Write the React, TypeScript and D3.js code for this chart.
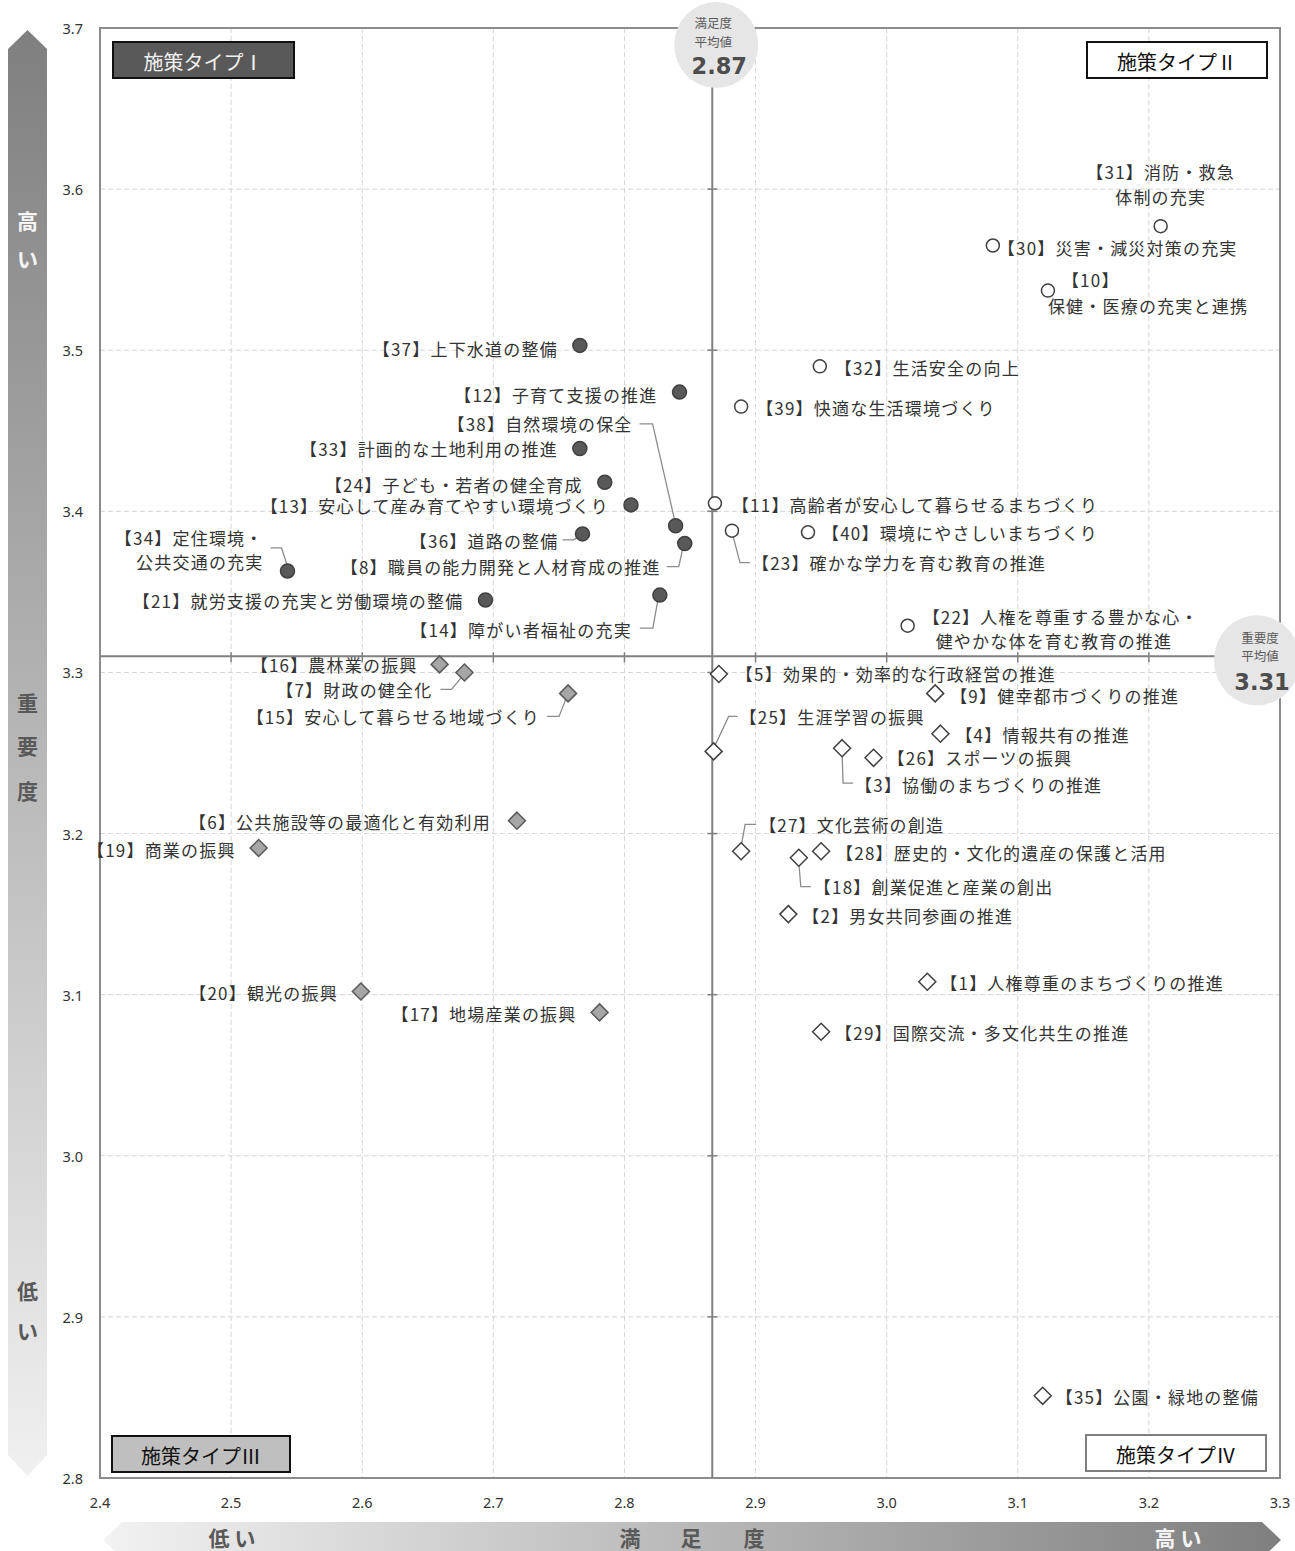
import * as d3 from "d3";

// 施策番号 1〜40 の名称・満足度・重要度
const names = [
  "人権尊重のまちづくりの推進",
  "男女共同参画の推進",
  "協働のまちづくりの推進",
  "情報共有の推進",
  "効果的・効率的な行政経営の推進",
  "公共施設等の最適化と有効利用",
  "財政の健全化",
  "職員の能力開発と人材育成の推進",
  "健幸都市づくりの推進",
  "\n保健・医療の充実と連携",
  "高齢者が安心して暮らせるまちづくり",
  "子育て支援の推進",
  "安心して産み育てやすい環境づくり",
  "障がい者福祉の充実",
  "安心して暮らせる地域づくり",
  "農林業の振興",
  "地場産業の振興",
  "創業促進と産業の創出",
  "商業の振興",
  "観光の振興",
  "就労支援の充実と労働環境の整備",
  "人権を尊重する豊かな心・\n健やかな体を育む教育の推進",
  "確かな学力を育む教育の推進",
  "子ども・若者の健全育成",
  "生涯学習の振興",
  "スポーツの振興",
  "文化芸術の創造",
  "歴史的・文化的遺産の保護と活用",
  "国際交流・多文化共生の推進",
  "災害・減災対策の充実",
  "消防・救急\n体制の充実",
  "生活安全の向上",
  "計画的な土地利用の推進",
  "定住環境・\n公共交通の充実",
  "公園・緑地の整備",
  "道路の整備",
  "上下水道の整備",
  "自然環境の保全",
  "快適な生活環境づくり",
  "環境にやさしいまちづくり",
];

const satisfaction = [
  3.031, 2.925, 2.966, 3.041, 2.872, 2.718, 2.678, 2.846, 3.037, 3.123,
  2.869, 2.842, 2.805, 2.827, 2.757, 2.659, 2.781, 2.933, 2.521, 2.599,
  2.694, 3.016, 2.882, 2.785, 2.868, 2.99, 2.889, 2.95, 2.95, 3.081,
  3.209, 2.949, 2.766, 2.543, 3.119, 2.768, 2.766, 2.839, 2.889, 2.94,
];

const importance = [
  3.108, 3.15, 3.253, 3.262, 3.299, 3.208, 3.3, 3.38, 3.287, 3.537,
  3.405, 3.474, 3.404, 3.348, 3.287, 3.305, 3.089, 3.185, 3.191, 3.102,
  3.345, 3.329, 3.388, 3.418, 3.251, 3.247, 3.189, 3.189, 3.077, 3.565,
  3.577, 3.49, 3.439, 3.363, 2.851, 3.386, 3.503, 3.391, 3.465, 3.387,
];

const satisfactionMean = 2.867;
const importanceMean = 3.31;

const xTicks = [2.4, 2.5, 2.6, 2.7, 2.8, 2.9, 3.0, 3.1, 3.2, 3.3];
const yTicks = [2.8, 2.9, 3.0, 3.1, 3.2, 3.3, 3.4, 3.5, 3.6, 3.7];

const quadrantNames = ["施策タイプⅠ", "施策タイプⅡ", "施策タイプⅢ", "施策タイプⅣ"];

// ラベルの置き場所（点からのずれ、px）
type Layout = {
  anchor: "start" | "end" | "middle";
  lines: [number, number][];
  leader?: [number, number][];
};
const L = (anchor: Layout["anchor"], lines: [number, number][], leader?: [number, number][]): Layout => ({ anchor, lines, leader });

const labelLayout: Record<number, Layout> = {
  1: L("start", [[13, 1]]),
  2: L("start", [[14, 1]]),
  3: L("start", [[13, 36]], [[0, 5], [1, 35], [11, 35]]),
  4: L("start", [[15, 1]]),
  5: L("start", [[17, -1]]),
  6: L("end", [[-26, 1]]),
  7: L("end", [[-32, 17]], [[-24, 17], [-13, 17], [-3, 5]]),
  8: L("end", [[-24, 23]], [[-18, 23], [-6, 23], [-2, 5]]),
  9: L("start", [[15, 2]]),
  10: L("start", [[14, -11], [0, 15]]),
  11: L("start", [[17, 1]]),
  12: L("end", [[-22, 2]]),
  13: L("end", [[-22, 1]]),
  14: L("end", [[-28, 34]], [[-20, 33], [-7, 33], [-2, 5]]),
  15: L("end", [[-28, 23]], [[-21, 23], [-9, 23], [-2, 5]]),
  16: L("end", [[-22, 0]]),
  17: L("end", [[-23, 1]]),
  18: L("start", [[15, 29]], [[0, 5], [2, 29], [12, 29]]),
  19: L("end", [[-23, 1]]),
  20: L("end", [[-23, 1]]),
  21: L("end", [[-22, 1]]),
  22: L("start", [[15, -9], [28, 15]]),
  23: L("start", [[20, 32]], [[1, 5], [8, 32], [18, 32]]),
  24: L("end", [[-22, 2]]),
  25: L("start", [[26, -35]], [[1, -5], [15, -35], [24, -35]]),
  26: L("start", [[14, 0]]),
  27: L("start", [[18, -27]], [[0, -5], [4, -27], [15, -27]]),
  28: L("start", [[15, 1]]),
  29: L("start", [[14, 1]]),
  30: L("start", [[5, 2]]),
  31: L("middle", [[0, -55], [0, -30]]),
  32: L("start", [[15, 1]]),
  33: L("end", [[-22, 0]]),
  34: L("end", [[-24, -33], [-24, -9]], [[-17, -23], [-6, -23], [0, -5]]),
  35: L("start", [[13, 1]]),
  36: L("end", [[-24, 7]], [[-20, 6], [-9, 6], [-4, 3]]),
  37: L("end", [[-22, 3]]),
  38: L("end", [[-43, -102]], [[-36, -102], [-23, -102], [-1, -6]]),
  39: L("start", [[15, 1]]),
  40: L("start", [[14, 0]]),
};

const W = 1295;
const H = 1551;
const PLOT = { left: 100, right: 1280, top: 28, bottom: 1478 };

const JP = "'Noto Sans CJK JP', 'Noto Sans', sans-serif";
const NUM = "'Noto Sans', 'DejaVu Sans', sans-serif";

export default function App() {
  const x = d3.scaleLinear().domain([2.4, 3.3]).range([PLOT.left, PLOT.right]);
  const y = d3.scaleLinear().domain([2.8, 3.7]).range([PLOT.bottom, PLOT.top]);

  const points = names.map((name, i) => {
    const id = i + 1;
    const hiS = satisfaction[i] >= satisfactionMean;
    const hiI = importance[i] >= importanceMean;
    const quadrant = hiI ? (hiS ? 2 : 1) : hiS ? 4 : 3;
    return { id, name, sx: x(satisfaction[i]), sy: y(importance[i]), quadrant };
  });

  const mx = x(satisfactionMean);
  const my = y(importanceMean);

  const marker = (q: number, cx: number, cy: number) => {
    if (q === 1) return <circle cx={cx} cy={cy} r={7} fill="#595959" stroke="#404040" strokeWidth={1.5} />;
    if (q === 2) return <circle cx={cx} cy={cy} r={6.5} fill="#fff" stroke="#404040" strokeWidth={1.5} />;
    const s = 8.5;
    const d = `M${cx},${cy - s}L${cx + s},${cy}L${cx},${cy + s}L${cx - s},${cy}Z`;
    if (q === 3) return <path d={d} fill="#a6a6a6" stroke="#595959" strokeWidth={1.5} />;
    return <path d={d} fill="#fff" stroke="#404040" strokeWidth={1.5} />;
  };

  const boxes = [
    { q: 1, x: 113, y: 42, w: 181, fill: "#595959", stroke: "#111", text: "#f2f2f2" },
    { q: 2, x: 1087, y: 42, w: 180, fill: "#fff", stroke: "#111", text: "#111" },
    { q: 3, x: 112, y: 1436, w: 178, fill: "#bfbfbf", stroke: "#111", text: "#111" },
    { q: 4, x: 1086, y: 1435, w: 180, fill: "#fff", stroke: "#7f7f7f", text: "#111" },
  ];

  return (
    <svg width={W} height={H} style={{ position: "absolute", left: 0, top: 0, background: "#fff" }}>
      <defs>
        <linearGradient id="vGrad" x1="0" y1="0" x2="0" y2="1">
          <stop offset="0%" stopColor="#7f7f7f" />
          <stop offset="100%" stopColor="#f0f0f0" />
        </linearGradient>
        <linearGradient id="hGrad" x1="0" y1="0" x2="1" y2="0">
          <stop offset="0%" stopColor="#f2f2f2" />
          <stop offset="100%" stopColor="#7f7f7f" />
        </linearGradient>
      </defs>

      {/* 縦の矢印（重要度） */}
      <path d="M27.5,30L47,49L47,1455L27.5,1476L8,1455L8,49Z" fill="url(#vGrad)" />
      <g fontFamily={JP} fontWeight={700} fontSize={21} textAnchor="middle" dominantBaseline="central">
        <text x={27.5} y={220} fill="#f5f5f5">高</text>
        <text x={27.5} y={258} fill="#f5f5f5">い</text>
        <text x={27.5} y={702} fill="#595959">重</text>
        <text x={27.5} y={745} fill="#595959">要</text>
        <text x={27.5} y={790} fill="#595959">度</text>
        <text x={27.5} y={1290} fill="#595959">低</text>
        <text x={27.5} y={1330} fill="#595959">い</text>
      </g>

      {/* 横の矢印（満足度） */}
      <path d="M103,1540L122,1522L1262,1522L1281,1540L1262,1558L122,1558Z" fill="url(#hGrad)" />
      <g fontFamily={JP} fontWeight={700} fontSize={21} textAnchor="middle" dominantBaseline="central">
        <text x={232} y={1537} fill="#595959">低 い</text>
        <text x={630} y={1537} fill="#595959">満</text>
        <text x={691} y={1537} fill="#595959">足</text>
        <text x={754} y={1537} fill="#595959">度</text>
        <text x={1178} y={1537} fill="#f5f5f5">高 い</text>
      </g>

      {/* グリッド */}
      <g stroke="#d4d4d4" strokeWidth={1} strokeDasharray="5,3">
        {xTicks.slice(1, -1).map((t) => (
          <line key={"gx" + t} x1={x(t)} x2={x(t)} y1={PLOT.top} y2={PLOT.bottom} />
        ))}
        {yTicks.slice(1, -1).map((t) => (
          <line key={"gy" + t} x1={PLOT.left} x2={PLOT.right} y1={y(t)} y2={y(t)} />
        ))}
      </g>
      <rect x={PLOT.left} y={PLOT.top} width={PLOT.right - PLOT.left} height={PLOT.bottom - PLOT.top}
        fill="none" stroke="#8c8c8c" strokeWidth={2} />

      {/* 目盛り */}
      <g fontFamily={NUM} fontSize={14.5} fill="#333">
        {yTicks.map((t) => (
          <text key={"ty" + t} x={83} y={y(t)} textAnchor="end" dominantBaseline="central">{t.toFixed(1)}</text>
        ))}
        {xTicks.map((t) => (
          <text key={"tx" + t} x={x(t)} y={1502} textAnchor="middle" dominantBaseline="central">{t.toFixed(1)}</text>
        ))}
      </g>

      {/* 平均値の線 */}
      <g stroke="#808080" strokeWidth={2}>
        <line x1={mx} x2={mx} y1={PLOT.top} y2={PLOT.bottom} />
        <line x1={PLOT.left} x2={PLOT.right} y1={my} y2={my} />
        {yTicks.slice(1, -1).map((t) => (
          <line key={"my" + t} x1={mx - 5} x2={mx + 5} y1={y(t)} y2={y(t)} strokeWidth={1.5} />
        ))}
        {xTicks.slice(1, -1).map((t) => (
          <line key={"mx" + t} x1={x(t)} x2={x(t)} y1={my - 4} y2={my + 6} strokeWidth={1.5} />
        ))}
      </g>

      {/* 平均値の吹き出し */}
      <ellipse cx={mx + 4} cy={45} rx={42} ry={43} fill="#e6e6e6" />
      <g fontFamily={JP} fontSize={12.5} fill="#595959" textAnchor="middle" dominantBaseline="central">
        <text x={mx + 1} y={22}>満足度</text>
        <text x={mx + 1} y={41}>平均値</text>
      </g>
      <text x={mx + 7} y={66} textAnchor="middle" dominantBaseline="central" fontFamily="'DejaVu Sans', sans-serif"
        fontWeight={700} fontSize={22.5} fill="#4d4d4d">{satisfactionMean.toFixed(2)}</text>

      <ellipse cx={1257} cy={my + 4} rx={43} ry={45} fill="#e6e6e6" />
      <g fontFamily={JP} fontSize={12.5} fill="#595959" textAnchor="middle" dominantBaseline="central">
        <text x={1260} y={my - 19}>重要度</text>
        <text x={1260} y={my - 1}>平均値</text>
      </g>
      <text x={1262} y={my + 26} textAnchor="middle" dominantBaseline="central" fontFamily="'DejaVu Sans', sans-serif"
        fontWeight={700} fontSize={22.5} fill="#4d4d4d">{importanceMean.toFixed(2)}</text>

      {/* 施策タイプの枠 */}
      {boxes.map((b) => (
        <g key={"box" + b.q}>
          <rect x={b.x} y={b.y} width={b.w} height={36} fill={b.fill} stroke={b.stroke} strokeWidth={2} />
          <text x={b.x + b.w / 2} y={b.y + 19} textAnchor="middle" dominantBaseline="central"
            fontFamily={JP} fontSize={20} fill={b.text}>{quadrantNames[b.q - 1]}</text>
        </g>
      ))}

      {/* 引き出し線 */}
      <g fill="none" stroke="#8c8c8c" strokeWidth={1.3}>
        {points.map((p) => {
          const lay = labelLayout[p.id];
          if (!lay.leader) return null;
          const line = d3.line<[number, number]>().x((d) => p.sx + d[0]).y((d) => p.sy + d[1]);
          return <path key={"ld" + p.id} d={line(lay.leader) ?? ""} />;
        })}
      </g>

      {/* 点 */}
      {points.map((p) => (
        <g key={"pt" + p.id}>{marker(p.quadrant, p.sx, p.sy)}</g>
      ))}

      {/* ラベル */}
      <g fontFamily={JP} fontSize={17} letterSpacing={1.2} fill="#333">
        {points.map((p) => {
          const lay = labelLayout[p.id];
          const parts = `【${p.id}】${p.name}`.split("\n");
          return parts.map((s, k) => {
            const [dx, dy] = lay.lines[k];
            return (
              <text key={"lb" + p.id + "-" + k} x={p.sx + dx} y={p.sy + dy} textAnchor={lay.anchor}
                dominantBaseline="central">{s}</text>
            );
          });
        })}
      </g>
    </svg>
  );
}
